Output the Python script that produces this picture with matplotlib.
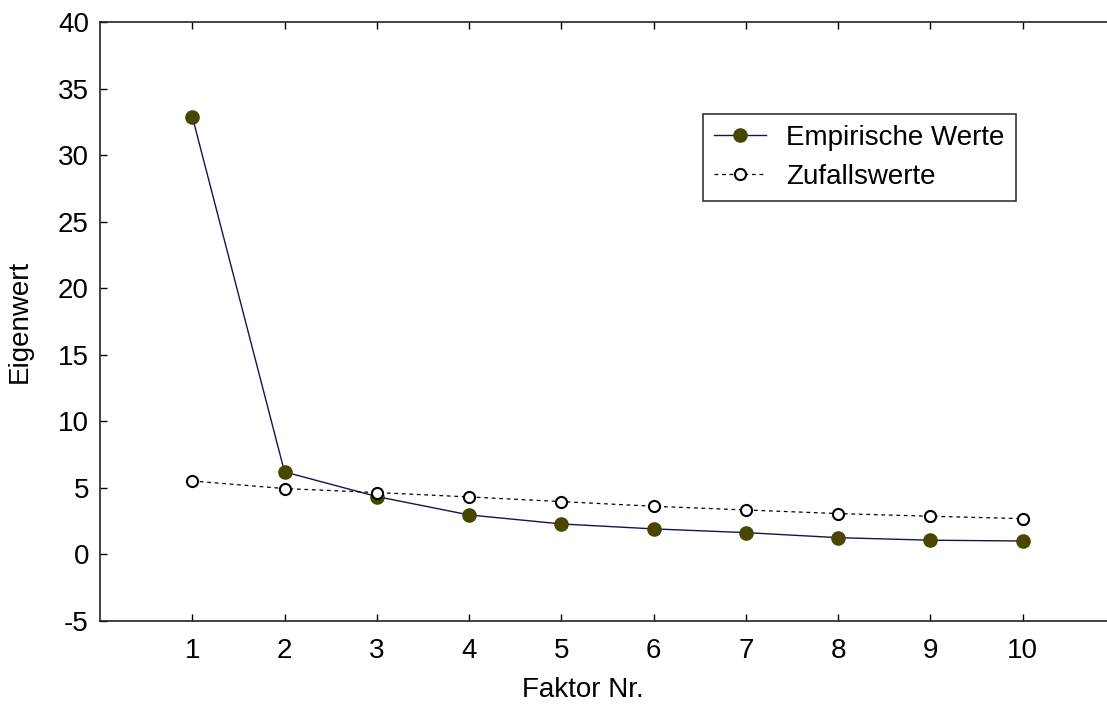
import matplotlib.pyplot as plt

plt.rcParams['font.family'] = ['Liberation Sans', 'DejaVu Sans']
plt.rcParams['axes.unicode_minus'] = False

faktoren = [1, 2, 3, 4, 5, 6, 7, 8, 9, 10]
empirisch = [32.9, 6.2, 4.35, 2.97, 2.29, 1.92, 1.64, 1.26, 1.07, 1.01]
zufall = [5.52, 4.95, 4.65, 4.32, 3.97, 3.62, 3.34, 3.07, 2.87, 2.69]
y_ticks = list(range(-5, 45, 5))

fig = plt.figure(figsize=(11.07, 7.04), dpi=100)
ax = fig.add_axes([100 / 1107, 83 / 704, 1015 / 1107, 599 / 704])

ax.plot(faktoren, empirisch, color='#14144a', lw=1.0, marker='o', ms=9.5,
        mfc='#474700', mec='#474700', label='Empirische Werte', zorder=3)
ax.plot(faktoren, zufall, color='black', lw=0.9, ls=(0, (3, 3)), marker='o', ms=8,
        mfc='white', mec='black', mew=1.5, label='Zufallswerte', zorder=4)

ax.set_xlim(0, 11)
ax.set_ylim(-5, 40)
ax.set_xticks(faktoren)
ax.set_yticks(y_ticks)
ax.tick_params(direction='in', length=5, width=1, labelsize=20, top=True, pad=12)
ax.tick_params(axis='y', pad=8)
for s in ax.spines.values():
    s.set_linewidth(1.2)
    s.set_color('#222222')

ax.set_xlabel('Faktor Nr.', fontsize=20)
ax.xaxis.set_label_coords(0.476, -0.093)
ax.set_ylabel('Eigenwert', fontsize=20)
ax.yaxis.set_label_coords(-0.066, 0.5)

leg = ax.legend(loc='upper left', bbox_to_anchor=(703 / 1107, 1 - 114 / 704),
                bbox_transform=fig.transFigure, fontsize=20, frameon=True,
                fancybox=False, edgecolor='black', handlelength=1.85,
                borderpad=0.4, labelspacing=0.45, handletextpad=0.75,
                borderaxespad=0)
leg.get_frame().set_linewidth(1.2)

fig.savefig('out.png', dpi=100)
